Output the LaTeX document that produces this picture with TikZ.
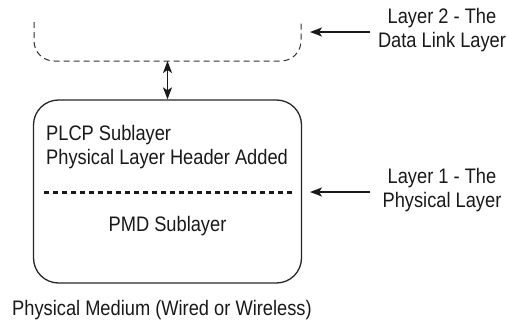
\documentclass[tikz,border=0pt]{standalone}
\usepackage{fontspec}
\setmainfont{Liberation Sans}[FakeStretch=0.87]
\usetikzlibrary{arrows.meta}
\begin{document}
\begin{tikzpicture}[x=1pt,y=-1pt,
  lbl/.style={font=\fontsize{21}{24}\selectfont, text=black!90, inner sep=0pt},
  arr/.style={-{Stealth[length=12pt,width=9pt,inset=3pt]}, line width=1.4pt, black!90},
  darr/.style={{Stealth[length=12pt,width=9pt,inset=3pt]}-{Stealth[length=12pt,width=9pt,inset=3pt]}, line width=1.4pt, black!90}]
\useasboundingbox (0,0) rectangle (509,324);
% dashed layer 2 shape
\draw[dash pattern=on 6pt off 4pt, line width=1pt, black!80, rounded corners=20pt]
  (34,22) -- (34,61) -- (301,61) -- (301,22);
\coordinate (l2b) at (167.5,61);
\coordinate (l2r) at (310,32);
% main box
\node[draw=black!85, line width=1.3pt, rounded corners=25pt, minimum width=268pt, minimum height=183pt, inner sep=0pt] (box) at (167.5,191.5) {};
\node[lbl, anchor=base west] (plcp) at (46,140) {PLCP Sublayer};
\node[lbl, anchor=base west] (hdr) at (46,164) {Physical Layer Header Added};
\draw[line width=3pt, dash pattern=on 5pt off 4pt, black!90] (44,192) -- (293,192);
\node[lbl] (pmd) at (167.5,226) {PMD Sublayer};
\node[lbl, anchor=west] (med) at (12,310) {Physical Medium (Wired or Wireless)};
\coordinate (l1r) at (310,192);
% right labels
\node[lbl, align=center] (lay2) at (442,30) {Layer 2 - The\\Data Link Layer};
\node[lbl, align=center] (lay1) at (442,190) {Layer 1 - The\\Physical Layer};
\draw[arr] (370,32) -- (l2r);
\draw[arr] (370,192) -- (l1r);
\draw[darr] (l2b) -- (box.north);
\end{tikzpicture}
\end{document}
